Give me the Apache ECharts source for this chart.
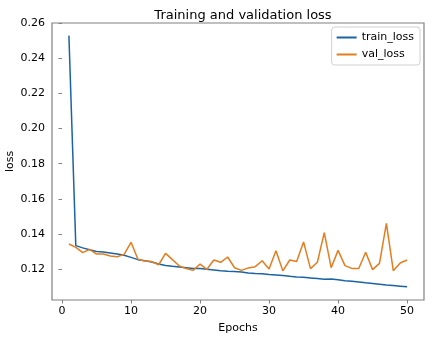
<!DOCTYPE html>
<html>
<head>
<meta charset="utf-8">
<script src="https://cdn.jsdelivr.net/npm/echarts@6/dist/echarts.min.js"></script>
<style>html,body{margin:0;padding:0;background:#fff}#c{width:433px;height:339px}</style>
</head>
<body>
<div id="c"></div>
<script>
const epochs = Array.from({length: 50}, (_, i) => i + 1);
const trainLoss = [0.253, 0.1333, 0.1320, 0.1310, 0.1300, 0.1297, 0.1291, 0.1285, 0.1278, 0.1266,
  0.1253, 0.1247, 0.1240, 0.1228, 0.1220, 0.1215, 0.1211, 0.1207, 0.1203, 0.1202,
  0.1198, 0.1194, 0.1190, 0.1187, 0.1185, 0.1183, 0.1177, 0.1174, 0.1172, 0.1168,
  0.1166, 0.1163, 0.1158, 0.1154, 0.1153, 0.1149, 0.1145, 0.1141, 0.1143, 0.1139,
  0.1133, 0.1130, 0.1126, 0.1121, 0.1117, 0.1113, 0.1109, 0.1106, 0.1102, 0.1098];
const valLoss = [0.1342, 0.1323, 0.1293, 0.1312, 0.1285, 0.1285, 0.1274, 0.1270, 0.1283, 0.1352,
  0.1255, 0.1245, 0.1242, 0.1224, 0.1289, 0.1253, 0.1217, 0.1202, 0.1192, 0.1228,
  0.1198, 0.1251, 0.1238, 0.1268, 0.1207, 0.1192, 0.1206, 0.1213, 0.1247, 0.1200,
  0.1304, 0.1189, 0.1251, 0.1242, 0.1354, 0.1202, 0.1238, 0.1407, 0.1207, 0.1306,
  0.1219, 0.1203, 0.1203, 0.1295, 0.1196, 0.1232, 0.1460, 0.1190, 0.1234, 0.1251];
const xTicks = [0, 10, 20, 30, 40, 50];
const yTicks = [0.12, 0.14, 0.16, 0.18, 0.20, 0.22, 0.24, 0.26];

const font = 'DejaVu Sans';
const chart = echarts.init(document.getElementById('c'), null, {renderer: 'canvas'});
chart.setOption({
  animation: false,
  backgroundColor: '#fff',
  title: {
    text: 'Training and validation loss', left: 238, top: 4, textAlign: 'center',
    textStyle: {fontFamily: font, fontSize: 13, fontWeight: 'normal', color: '#000'}
  },
  legend: {
    data: ['train_loss', 'val_loss'], orient: 'vertical', right: 13, top: 27,
    itemWidth: 20, itemHeight: 2, itemGap: 6, icon: 'rect',
    backgroundColor: '#fff', borderColor: '#d0d0d0', borderWidth: 1, borderRadius: 3,
    padding: [5, 6, 5, 5],
    textStyle: {fontFamily: font, fontSize: 11, color: '#000'}
  },
  grid: {left: 52, right: 9, top: 23, bottom: 39, show: true, borderColor: '#808080', borderWidth: 1.2,
    containLabel: false, outerBoundsMode: 'none'},
  xAxis: {
    type: 'value', min: -1.45, max: 52.45,
    name: 'Epochs', nameLocation: 'middle', nameGap: 23, nameMoveOverlap: false,
    nameTextStyle: {fontFamily: font, fontSize: 11, color: '#000'},
    axisLine: {show: false},
    axisTick: {show: true, inside: false, length: 3.5, lineStyle: {color: '#808080'}, customValues: xTicks},
    axisLabel: {fontFamily: font, fontSize: 11, color: '#000', margin: 6, customValues: xTicks},
    splitLine: {show: false}
  },
  yAxis: {
    type: 'value', min: 0.1023, max: 0.2602,
    name: 'loss', nameLocation: 'middle', nameGap: 36, nameRotate: 90, nameMoveOverlap: false,
    nameTextStyle: {fontFamily: font, fontSize: 11, color: '#000'},
    axisLine: {show: false},
    axisTick: {show: true, inside: false, length: 3.5, lineStyle: {color: '#808080'}, customValues: yTicks},
    axisLabel: {fontFamily: font, fontSize: 11, color: '#000', margin: 7, customValues: yTicks,
      formatter: v => v.toFixed(2)},
    splitLine: {show: false}
  },
  series: [
    {name: 'train_loss', type: 'line', data: epochs.map((e, i) => [e, trainLoss[i]]),
     showSymbol: false, color: '#1a64a3', lineStyle: {width: 1.5, color: '#1a64a3'}},
    {name: 'val_loss', type: 'line', data: epochs.map((e, i) => [e, valLoss[i]]),
     showSymbol: false, color: '#e47d1e', lineStyle: {width: 1.5, color: '#e47d1e'}}
  ]
});
</script>
</body>
</html>
